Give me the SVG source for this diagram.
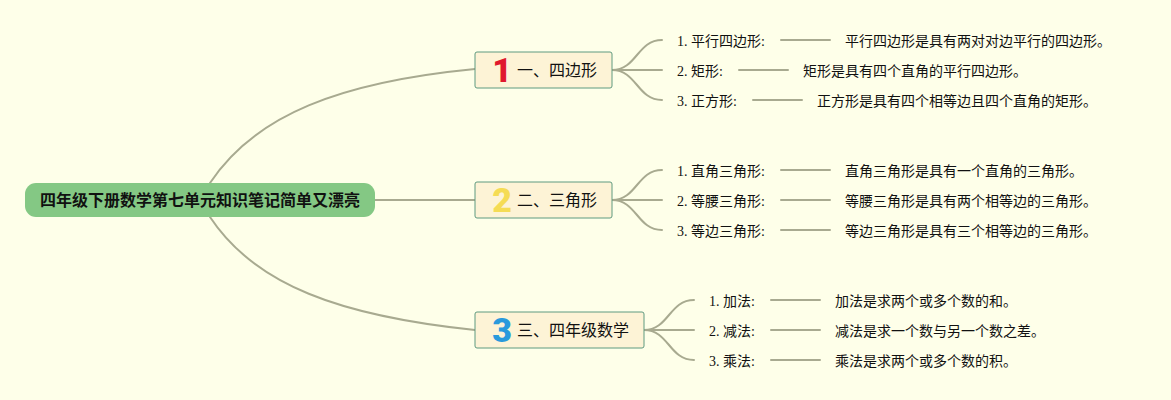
<svg xmlns="http://www.w3.org/2000/svg" width="1171" height="400" viewBox="0 0 1171 400">
<style>
.bg{fill:#feffe9}
.c{fill:none;stroke:#a8aa90;stroke-width:2;stroke-linecap:round}
.root{fill:#84c884}
.topic{fill:#fdf3d6;stroke:#5f9a80;stroke-width:1}
text{font-family:"Liberation Serif","Noto Sans CJK SC",serif;fill:#111}
.rt{font-family:"Liberation Sans","Noto Sans CJK SC",sans-serif;font-size:16px;font-weight:700}
.tt{font-family:"Liberation Sans","Noto Sans CJK SC",sans-serif;font-size:16px}
.s{font-size:14px}
.n{font-family:Roboto,sans-serif;font-size:34px;font-weight:900}
</style>
<rect class="bg" width="1171" height="400"/>
<g id="connectors">
<path class="c" d="M210 183C255 115 340 82 475 69"/>
<path class="c" d="M375 200H475"/>
<path class="c" d="M210 217C255 285 340 316 475 330"/>
<path class="c" d="M612 70C637 70 637 40 662 40"/>
<path class="c" d="M612 70H662"/>
<path class="c" d="M612 70C637 70 637 100 662 100"/>
<path class="c" d="M612 200C637 200 637 170 662 170"/>
<path class="c" d="M612 200H662"/>
<path class="c" d="M612 200C637 200 637 230 662 230"/>
<path class="c" d="M644 330C669 330 669 300 694 300"/>
<path class="c" d="M644 330H694"/>
<path class="c" d="M644 330C669 330 669 360 694 360"/>
<path class="c" d="M781 40H830"/>
<path class="c" d="M739 70H788"/>
<path class="c" d="M753 100H802"/>
<path class="c" d="M781 170H830"/>
<path class="c" d="M781 200H830"/>
<path class="c" d="M781 230H830"/>
<path class="c" d="M771 300H820"/>
<path class="c" d="M771 330H820"/>
<path class="c" d="M771 360H820"/>
</g>
<g id="root"><rect class="root" x="25" y="183" width="350" height="34" rx="11"/><text class="rt" x="40" y="206">四年级下册数学第七单元知识笔记简单又漂亮</text></g>
<g id="topic1"><rect class="topic" x="475" y="52" width="137" height="36" rx="2"/><text class="n" x="502" y="82" text-anchor="middle" style="fill:#e0182d">1</text><text class="tt" x="517" y="76">一、四边形</text></g>
<g id="topic2"><rect class="topic" x="475" y="182" width="137" height="36" rx="2"/><text class="n" x="502" y="212" text-anchor="middle" style="fill:#f5dc55">2</text><text class="tt" x="517" y="206">二、三角形</text></g>
<g id="topic3"><rect class="topic" x="475" y="312" width="169" height="36" rx="2"/><text class="n" x="502" y="342" text-anchor="middle" style="fill:#2a9adc">3</text><text class="tt" x="517" y="336">三、四年级数学</text></g>
<g id="item1-1"><text class="s" x="677" y="46">1. 平行四边形:</text><text class="s" x="845" y="46">平行四边形是具有两对对边平行的四边形。</text></g>
<g id="item1-2"><text class="s" x="677" y="76">2. 矩形:</text><text class="s" x="803" y="76">矩形是具有四个直角的平行四边形。</text></g>
<g id="item1-3"><text class="s" x="677" y="106">3. 正方形:</text><text class="s" x="817" y="106">正方形是具有四个相等边且四个直角的矩形。</text></g>
<g id="item2-1"><text class="s" x="677" y="176">1. 直角三角形:</text><text class="s" x="845" y="176">直角三角形是具有一个直角的三角形。</text></g>
<g id="item2-2"><text class="s" x="677" y="206">2. 等腰三角形:</text><text class="s" x="845" y="206">等腰三角形是具有两个相等边的三角形。</text></g>
<g id="item2-3"><text class="s" x="677" y="236">3. 等边三角形:</text><text class="s" x="845" y="236">等边三角形是具有三个相等边的三角形。</text></g>
<g id="item3-1"><text class="s" x="709" y="306">1. 加法:</text><text class="s" x="835" y="306">加法是求两个或多个数的和。</text></g>
<g id="item3-2"><text class="s" x="709" y="336">2. 减法:</text><text class="s" x="835" y="336">减法是求一个数与另一个数之差。</text></g>
<g id="item3-3"><text class="s" x="709" y="366">3. 乘法:</text><text class="s" x="835" y="366">乘法是求两个或多个数的积。</text></g>
</svg>
